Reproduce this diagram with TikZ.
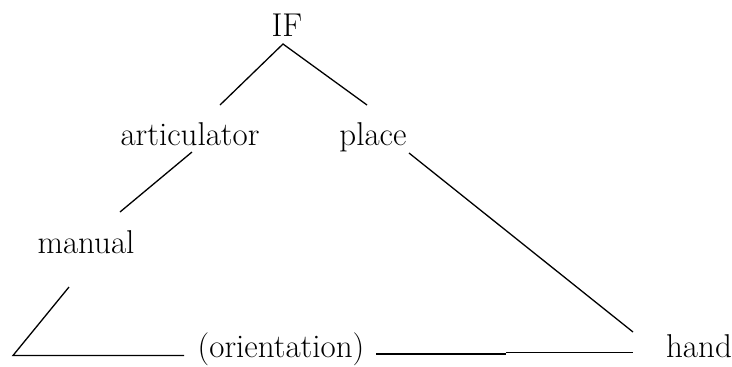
\documentclass[tikz,border=0pt]{standalone}
\usepackage{fontspec}
\setmainfont{Latin Modern Roman}
\begin{document}
\begin{tikzpicture}[x=1pt,y=-1pt,
  lbl/.style={inner sep=0pt,anchor=base,font=\fontsize{33}{40}\selectfont},
  branch/.style={line width=1.3pt,line cap=butt}]
\useasboundingbox (0,0) rectangle (732,367);
\node[lbl] (IF) at (287,36) {IF};
\node[lbl] (art) at (190,145) {articulator};
\node[lbl] (place) at (373,145) {place};
\node[lbl] (man) at (86,253) {manual};
\node[lbl] (ori) at (281,357) {(orientation)};
\node[lbl] (hand) at (699,357) {hand};
% line ends
\coordinate (top) at (283,44);
\coordinate (artT) at (220,105);
\coordinate (plT) at (367,105);
\coordinate (artB) at (192,152);
\coordinate (manT) at (120,212);
\coordinate (plB) at (409,153);
\coordinate (handT) at (633,332);
\coordinate (manB) at (69,287);
\coordinate (corner) at (13,355.5);
\coordinate (oriL) at (184,355.5);
\coordinate (oriR) at (376,354);
\coordinate (mid1) at (506,354);
\coordinate (mid2) at (506,352.5);
\coordinate (handL) at (633,352.5);
\draw[branch] (artT) -- (top) -- (plT);
\draw[branch] (artB) -- (manT);
\draw[branch] (plB) -- (handT);
\draw[branch] (manB) -- (corner) -- (oriL);
\draw[branch] (oriR) -- (mid1);
\draw[branch] (mid2) -- (handL);
\end{tikzpicture}
\end{document}
